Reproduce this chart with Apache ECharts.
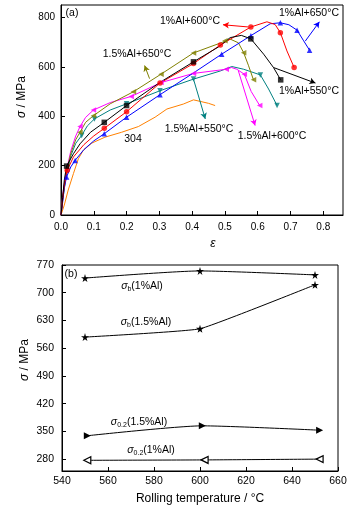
<!DOCTYPE html>
<html><head><meta charset="utf-8">
<script src="https://cdn.jsdelivr.net/npm/echarts@6/dist/echarts.min.js"></script>
<style>html,body{margin:0;padding:0;background:#fff}#c{width:359px;height:510px}</style>
</head><body><div id="c"></div>
<script>
// ---------- (a) stress-strain curves: [strain, stress / MPa] ----------
const al1_550 = [[0,0],[0.005,70],[0.01,140],[0.017,198],[0.038,248],[0.058,288],[0.09,335],[0.132,375],[0.2,443],[0.302,537],[0.404,620],[0.48,680],[0.516,718],[0.55,727],[0.579,713],[0.618,651],[0.648,597],[0.67,547]];
const al1_550_marks = [[0.017,198],[0.132,375],[0.2,443],[0.404,620],[0.579,713],[0.67,547]];
const al1_600 = [[0,0],[0.005,60],[0.01,120],[0.019,181],[0.038,235],[0.07,285],[0.1,320],[0.132,351],[0.2,418],[0.302,534],[0.404,613],[0.486,688],[0.579,761],[0.628,782],[0.653,771],[0.669,738],[0.689,664],[0.711,597]];
const al1_600_marks = [[0.019,181],[0.132,351],[0.2,418],[0.302,534],[0.404,613],[0.486,688],[0.579,761],[0.669,738],[0.711,597]];
const al1_650 = [[0,0],[0.005,50],[0.01,110],[0.017,154],[0.03,195],[0.043,221],[0.07,265],[0.1,300],[0.132,329],[0.2,396],[0.302,487],[0.404,575],[0.49,651],[0.579,726],[0.638,774],[0.669,778],[0.695,770],[0.72,748],[0.74,705],[0.758,667]];
const al1_650_marks = [[0.017,154],[0.043,221],[0.132,329],[0.2,396],[0.302,487],[0.49,651],[0.579,726],[0.669,778],[0.72,748],[0.758,667]];
const al15_550 = [[0,0],[0.005,60],[0.015,150],[0.03,240],[0.045,290],[0.063,322],[0.08,360],[0.102,389],[0.15,425],[0.2,450],[0.302,503],[0.404,550],[0.486,583],[0.521,601],[0.557,590],[0.608,567],[0.633,510],[0.659,443]];
const al15_550_marks = [[0.063,322],[0.102,389],[0.2,450],[0.302,503],[0.404,550],[0.608,567],[0.659,443]];
const al15_600 = [[0,0],[0.005,80],[0.015,170],[0.03,260],[0.045,320],[0.058,358],[0.075,395],[0.099,425],[0.15,455],[0.214,480],[0.305,536],[0.404,573],[0.504,590],[0.52,597],[0.536,590],[0.559,570],[0.58,500],[0.606,443]];
const al15_600_marks = [[0.058,358],[0.099,425],[0.214,480],[0.305,536],[0.404,573],[0.504,590],[0.559,570],[0.606,443]];
const al15_650 = [[0,0],[0.005,70],[0.015,160],[0.03,250],[0.045,305],[0.058,335],[0.075,375],[0.099,402],[0.15,450],[0.221,499],[0.305,570],[0.404,656],[0.488,697],[0.516,712],[0.541,697],[0.557,657],[0.572,604],[0.587,547]];
const al15_650_marks = [[0.058,335],[0.099,402],[0.221,499],[0.305,570],[0.404,656],[0.5,705],[0.557,657],[0.587,547]];
const ss304 = [[0,0],[0.01,40],[0.022,101],[0.038,168],[0.053,228],[0.068,262],[0.094,291],[0.134,315],[0.185,335],[0.236,358],[0.287,396],[0.323,429],[0.373,449],[0.404,466],[0.424,460],[0.45,452],[0.47,443]];
// annotation arrows (start -> head), data coordinates
const arrow1_550 = [[0.648,597],[0.776,534]];
const arrow1_600 = [[0.572,761],[0.494,770]];
const arrow1_650 = [[0.745,704],[0.788,782]];
const arrow15_550 = [[0.404,550],[0.44,389]];
const arrow15_600 = [[0.541,583],[0.592,362]];
const arrow15_650 = [[0.27,552],[0.255,605]];
const strainTicks = [0,0.1,0.2,0.3,0.4,0.5,0.6,0.7,0.8];
const stressTicks = [0,200,400,600,800];

// ---------- (b) strength vs rolling temperature ----------
const tempB = [550,600,650];
const sb_1 = [737,755,745];
const sb_15 = [588,609,720];
const temp02_15 = [551,601,652];
const s02_15 = [339,364,353];
const temp02_1 = [551,602,652];
const s02_1 = [277,278,280];
const tempTicks = [540,560,580,600,620,640,660];
const strengthTicks = [280,350,420,490,560,630,700,770];

const FONT = '"Liberation Sans", Arial, sans-serif';
const STAR = 'path://M50,0 L61,35 L98,35 L68,57 L79,91 L50,70 L21,91 L32,57 L2,35 L39,35 Z';
const zip = (a, b) => a.map((v, i) => [v, b[i]]);

function curve(data, marks, color, symbol, rot, arrow) {
  const out = [{
    type: 'line', xAxisIndex: 0, yAxisIndex: 0, data: data, showSymbol: false, symbol: 'none',
    lineStyle: {color: color, width: 1}, itemStyle: {color: color}, z: 3, silent: true
  }];
  if (arrow) {
    out[0].markLine = {
      silent: true, symbol: ['none', 'arrow'], symbolSize: [5, 6], animation: false,
      lineStyle: {color: color, width: 1, type: 'solid'}, label: {show: false},
      data: [[{coord: arrow[0]}, {coord: arrow[1]}]]
    };
  }
  if (marks) {
    out.push({
      type: 'scatter', xAxisIndex: 0, yAxisIndex: 0, data: marks, symbol: symbol, symbolRotate: rot || 0,
      symbolSize: 5.5, itemStyle: {color: color}, z: 4, silent: true
    });
  }
  return out;
}

const axisCommon = {
  axisLine: {show: true, lineStyle: {color: '#000', width: 1}},
  axisTick: {show: true, inside: true, length: 4, lineStyle: {color: '#000'}},
  splitLine: {show: false}
};

const chart = echarts.init(document.getElementById('c'));
chart.setOption({
  animation: false,
  backgroundColor: '#fff',
  grid: [
    {left: 61, top: 5, width: 282, height: 210, show: true, borderColor: '#000', borderWidth: 1},
    {left: 62, top: 265, width: 276, height: 206, show: true, borderColor: '#000', borderWidth: 1}
  ],
  xAxis: [
    Object.assign({}, axisCommon, {
      type: 'value', gridIndex: 0, min: 0, max: 0.86,
      axisTick: Object.assign({}, axisCommon.axisTick, {customValues: strainTicks}),
      axisLabel: {customValues: strainTicks, color: '#000', fontSize: 10, fontFamily: FONT, margin: 7,
        formatter: v => v.toFixed(1)}
    }),
    Object.assign({}, axisCommon, {
      type: 'value', gridIndex: 1, min: 540, max: 660,
      axisTick: Object.assign({}, axisCommon.axisTick, {customValues: tempTicks}),
      axisLabel: {customValues: tempTicks, color: '#000', fontSize: 10.5, fontFamily: FONT, margin: 5}
    })
  ],
  yAxis: [
    Object.assign({}, axisCommon, {
      type: 'value', gridIndex: 0, min: 0, max: 850,
      axisTick: Object.assign({}, axisCommon.axisTick, {customValues: stressTicks}),
      axisLabel: {customValues: stressTicks, color: '#000', fontSize: 10, fontFamily: FONT, margin: 6}
    }),
    Object.assign({}, axisCommon, {
      type: 'value', gridIndex: 1, min: 250, max: 770,
      axisTick: Object.assign({}, axisCommon.axisTick, {customValues: strengthTicks}),
      axisLabel: {customValues: strengthTicks, color: '#000', fontSize: 10.5, fontFamily: FONT, margin: 8}
    })
  ],
  series: [].concat(
    curve(ss304, null, '#ff8000'),
    curve(al15_550, al15_550_marks, '#008080', 'triangle', 180, arrow15_550),
    curve(al15_600, al15_600_marks, '#ff00ff', 'triangle', 90, arrow15_600),
    curve(al15_650, al15_650_marks, '#808000', 'triangle', 90, arrow15_650),
    curve(al1_650, al1_650_marks, '#0000ff', 'triangle', 0, arrow1_650),
    curve(al1_600, al1_600_marks, '#ff0000', 'circle', 0, arrow1_600),
    curve(al1_550, al1_550_marks, '#000000', 'rect', 0, arrow1_550),
    [
      {type: 'line', xAxisIndex: 1, yAxisIndex: 1, data: zip(tempB, sb_1), smooth: 0.2,
       symbol: STAR, symbolSize: 8, lineStyle: {color: '#000', width: 1}, itemStyle: {color: '#000'}},
      {type: 'line', xAxisIndex: 1, yAxisIndex: 1, data: zip(tempB, sb_15), smooth: 0.1,
       symbol: STAR, symbolSize: 8, lineStyle: {color: '#000', width: 1}, itemStyle: {color: '#000'}},
      {type: 'line', xAxisIndex: 1, yAxisIndex: 1, data: zip(temp02_15, s02_15), smooth: 0.2,
       symbol: 'triangle', symbolRotate: -90, symbolSize: 7, lineStyle: {color: '#000', width: 1},
       itemStyle: {color: '#000'}},
      {type: 'line', xAxisIndex: 1, yAxisIndex: 1, data: zip(temp02_1, s02_1), smooth: 0.2,
       symbol: 'triangle', symbolRotate: 90, symbolSize: 7, lineStyle: {color: '#000', width: 1},
       itemStyle: {color: '#fff', borderColor: '#000', borderWidth: 1.2}}
    ]
  ),
  graphic: [
    {type: 'text', x: 22, y: 97, rotation: Math.PI / 2, style: {text: '{i|σ} / MPa', fontSize: 12, fontFamily: FONT, fill: '#000', align: 'center', verticalAlign: 'middle',
      rich: {i: {fontStyle: 'italic', fontSize: 12, fontFamily: FONT}}}},
    {type: 'text', x: 213, y: 244, style: {text: 'ε', fontSize: 12, fontStyle: 'italic', fontFamily: FONT, fill: '#000', align: 'center', verticalAlign: 'middle'}},
    {type: 'text', x: 25, y: 360, rotation: Math.PI / 2, style: {text: '{i|σ} / MPa', fontSize: 12, fontFamily: FONT, fill: '#000', align: 'center', verticalAlign: 'middle',
      rich: {i: {fontStyle: 'italic', fontSize: 12, fontFamily: FONT}}}},
    {type: 'text', x: 200, y: 499, style: {text: 'Rolling temperature / °C', fontSize: 12, fontFamily: FONT, fill: '#000', align: 'center', verticalAlign: 'middle'}},
    {type: 'text', x: 72, y: 13, style: {text: '(a)', fontSize: 10.5, fontFamily: FONT, fill: '#000', align: 'center', verticalAlign: 'middle'}},
    {type: 'text', x: 71, y: 274, style: {text: '(b)', fontSize: 10.5, fontFamily: FONT, fill: '#000', align: 'center', verticalAlign: 'middle'}},
    {type: 'text', x: 190, y: 21, style: {text: '1%Al+600°C', fontSize: 10.5, fontFamily: FONT, fill: '#000', align: 'center', verticalAlign: 'middle'}},
    {type: 'text', x: 309, y: 13, style: {text: '1%Al+650°C', fontSize: 10.5, fontFamily: FONT, fill: '#000', align: 'center', verticalAlign: 'middle'}},
    {type: 'text', x: 137, y: 54, style: {text: '1.5%Al+650°C', fontSize: 10.5, fontFamily: FONT, fill: '#000', align: 'center', verticalAlign: 'middle'}},
    {type: 'text', x: 309, y: 91, style: {text: '1%Al+550°C', fontSize: 10.5, fontFamily: FONT, fill: '#000', align: 'center', verticalAlign: 'middle'}},
    {type: 'text', x: 199, y: 129, style: {text: '1.5%Al+550°C', fontSize: 10.5, fontFamily: FONT, fill: '#000', align: 'center', verticalAlign: 'middle'}},
    {type: 'text', x: 272, y: 136, style: {text: '1.5%Al+600°C', fontSize: 10.5, fontFamily: FONT, fill: '#000', align: 'center', verticalAlign: 'middle'}},
    {type: 'text', x: 133, y: 139, style: {text: '304', fontSize: 10.5, fontFamily: FONT, fill: '#000', align: 'center', verticalAlign: 'middle'}},
    {type: 'text', x: 142, y: 286, style: {text: '{i|σ}{s|b}(1%Al)', fontSize: 10.5, fontFamily: FONT, fill: '#000', align: 'center', verticalAlign: 'middle',
      rich: {i: {fontStyle: 'italic', fontSize: 10.5, fontFamily: FONT}, s: {fontSize: 7, fontFamily: FONT, verticalAlign: 'bottom', padding: [6, 0, 0, 0]}}}},
    {type: 'text', x: 146, y: 322, style: {text: '{i|σ}{s|b}(1.5%Al)', fontSize: 10.5, fontFamily: FONT, fill: '#000', align: 'center', verticalAlign: 'middle',
      rich: {i: {fontStyle: 'italic', fontSize: 10.5, fontFamily: FONT}, s: {fontSize: 7, fontFamily: FONT, verticalAlign: 'bottom', padding: [6, 0, 0, 0]}}}},
    {type: 'text', x: 139, y: 422, style: {text: '{i|σ}{s|0.2}(1.5%Al)', fontSize: 10.5, fontFamily: FONT, fill: '#000', align: 'center', verticalAlign: 'middle',
      rich: {i: {fontStyle: 'italic', fontSize: 10.5, fontFamily: FONT}, s: {fontSize: 7, fontFamily: FONT, verticalAlign: 'bottom', padding: [6, 0, 0, 0]}}}},
    {type: 'text', x: 151, y: 450, style: {text: '{i|σ}{s|0.2}(1%Al)', fontSize: 10.5, fontFamily: FONT, fill: '#000', align: 'center', verticalAlign: 'middle',
      rich: {i: {fontStyle: 'italic', fontSize: 10.5, fontFamily: FONT}, s: {fontSize: 7, fontFamily: FONT, verticalAlign: 'bottom', padding: [6, 0, 0, 0]}}}}
  ]
});
</script>
</body></html>
